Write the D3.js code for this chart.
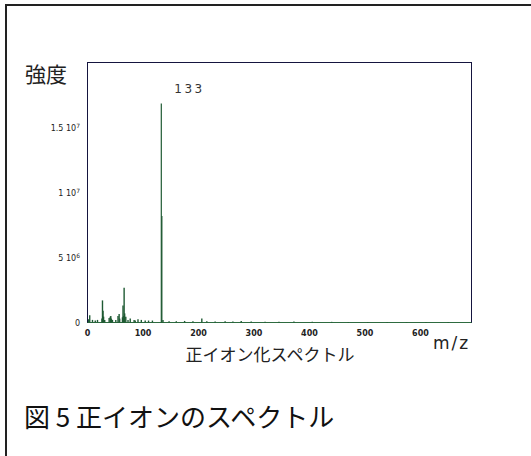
<!DOCTYPE html>
<html>
<head>
<meta charset="utf-8">
<script src="https://cdn.jsdelivr.net/npm/d3@7"></script>
<style>
  body { margin: 0; background: #fff; }
  svg { display: block; }
</style>
</head>
<body>
<div id="chart"></div>
<script>
// m/z of each peak and its intensity
const mz = [2, 4, 9, 14, 18, 26, 27, 28, 29, 31, 39, 41, 42, 43, 45, 51, 55, 57, 58, 63, 64, 65, 66, 67, 69, 73, 77, 84, 86, 91, 97, 104, 110, 117, 133, 134, 136, 147, 160, 175, 190, 206, 215, 230, 248, 262, 277, 295, 320, 345, 372, 405, 440, 470, 505, 540, 575, 610, 650];
const intensity = [0.25e6, 0.55e6, 0.2e6, 0.15e6, 0.2e6, 0.3e6, 1.7e6, 0.9e6, 0.45e6, 0.2e6, 0.35e6, 0.45e6, 0.5e6, 0.3e6, 0.2e6, 0.2e6, 0.5e6, 0.65e6, 0.3e6, 0.4e6, 1.3e6, 0.5e6, 2.67e6, 0.7e6, 0.45e6, 0.2e6, 0.3e6, 0.2e6, 0.15e6, 0.25e6, 0.2e6, 0.15e6, 0.15e6, 0.15e6, 1.685e7, 8.2e6, 0.2e6, 0.1e6, 0.1e6, 0.12e6, 0.1e6, 0.3e6, 0.1e6, 0.08e6, 0.1e6, 0.08e6, 0.12e6, 0.08e6, 0.06e6, 0.06e6, 0.08e6, 0.05e6, 0.05e6, 0.04e6, 0.04e6, 0.04e6, 0.03e6, 0.03e6, 0.03e6];

const xTicks = [0, 100, 200, 300, 400, 500, 600];
const yTicks = [0, 5e6, 1e7, 1.5e7];
const yTickLabels = [["0", ""], ["5 10", "6"], ["1 10", "7"], ["1.5 10", "7"]];

const width = 531, height = 456;
const marginLeft = 87.5, marginTop = 62.5, plotRight = 471.5, plotBottom = 322.5;

const svg = d3.select("#chart").append("svg")
    .attr("width", width)
    .attr("height", height);

// outer frame (only top and left edges visible)
svg.append("rect")
    .attr("x", 6).attr("y", 5)
    .attr("width", 540).attr("height", 470)
    .attr("fill", "none")
    .attr("stroke", "#222")
    .attr("stroke-width", 2);

const x = d3.scaleLinear().domain([0, 692]).range([marginLeft, plotRight]);
const y = d3.scaleLinear().domain([0, 2e7]).range([plotBottom, marginTop]);

// plot frame
svg.append("rect")
    .attr("x", marginLeft).attr("y", marginTop)
    .attr("width", plotRight - marginLeft).attr("height", plotBottom - marginTop)
    .attr("fill", "none")
    .attr("stroke", "#15153f")
    .attr("stroke-width", 1);

// baseline
svg.append("line")
    .attr("x1", x(0)).attr("x2", x(692))
    .attr("y1", y(0)).attr("y2", y(0))
    .attr("stroke", "#2e6b40")
    .attr("stroke-width", 1);

// peaks
svg.append("g")
    .selectAll("line")
    .data(d3.range(mz.length))
    .join("line")
    .attr("x1", i => x(mz[i]))
    .attr("x2", i => x(mz[i]))
    .attr("y1", y(0))
    .attr("y2", i => y(intensity[i]))
    .attr("stroke", "#1f5a33")
    .attr("stroke-width", i => intensity[i] > 5e6 ? 1.2 : 1.4);

// x axis labels
svg.append("g")
    .selectAll("text")
    .data(xTicks)
    .join("text")
    .attr("x", d => x(d))
    .attr("y", 336)
    .attr("text-anchor", "middle")
    .attr("font-family", "DejaVu Sans")
    .attr("font-size", 8)
    .attr("font-weight", "bold")
    .attr("fill", "#222")
    .text(d => d);

// y axis labels with superscript exponent
const yl = svg.append("g")
    .selectAll("text")
    .data(d3.range(yTicks.length))
    .join("text")
    .attr("x", 80)
    .attr("y", i => y(yTicks[i]) + 3)
    .attr("text-anchor", "end")
    .attr("font-family", "DejaVu Sans")
    .attr("font-size", 8)
    .attr("fill", "#222");
yl.append("tspan").text(i => yTickLabels[i][0]);
yl.append("tspan")
    .attr("dy", -3)
    .attr("font-size", 6)
    .text(i => yTickLabels[i][1]);

// peak label
svg.append("text")
    .attr("x", x(133) + 13).attr("y", 93)
    .attr("font-family", "DejaVu Sans")
    .attr("font-size", 12)
    .attr("letter-spacing", 2.5)
    .attr("fill", "#333")
    .text("133");

svg.append("text")
    .attr("x", 25).attr("y", 82)
    .attr("font-family", "Noto Sans CJK JP")
    .attr("font-size", 21)
    .attr("fill", "#222")
    .text("強度");

svg.append("text")
    .attr("x", 433).attr("y", 349)
    .attr("font-family", "DejaVu Sans")
    .attr("font-size", 17)
    .attr("letter-spacing", 2)
    .attr("fill", "#222")
    .text("m/z");

svg.append("text")
    .attr("x", 270).attr("y", 361)
    .attr("text-anchor", "middle")
    .attr("font-family", "Noto Sans CJK JP")
    .attr("font-size", 17)
    .attr("fill", "#222")
    .text("正イオン化スペクトル");

svg.append("text")
    .attr("x", 24).attr("y", 427)
    .attr("font-family", "Noto Sans CJK JP")
    .attr("font-size", 26)
    .attr("fill", "#111")
    .text("図 5 正イオンのスペクトル");
</script>
</body>
</html>
